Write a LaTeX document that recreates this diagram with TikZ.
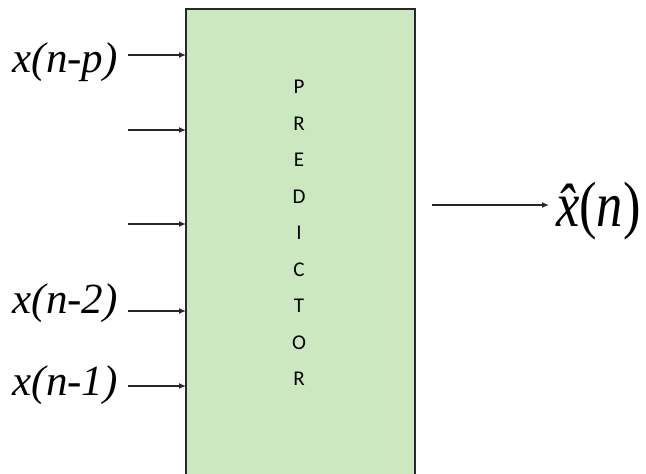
\documentclass[tikz,border=0pt]{standalone}
\usepackage{fontspec}
\usetikzlibrary{arrows.meta}
\setmainfont{Liberation Serif}
\newfontfamily\predfont{Carlito}
\definecolor{boxgreen}{RGB}{204,232,192}
\definecolor{boxedge}{RGB}{40,40,40}
\begin{document}
\begin{tikzpicture}[x=1pt,y=-1pt,
  inlabel/.style={font=\fontsize{43}{45}\selectfont\itshape, anchor=base east, inner sep=0pt},
  inarrow/.style={-{Latex[length=7pt,width=6pt]}, line width=2.2pt, black!85},
  letter/.style={font=\predfont\fontsize{21}{22}\selectfont, inner sep=0pt}]
\useasboundingbox (0,0) rectangle (646,474);
\begin{scope}
\clip (0,0) rectangle (646,474);
\draw[fill=boxgreen, draw=boxedge, line width=2.2pt] (186,9) rectangle (415,480);
\end{scope}
% inputs
\foreach \y/\name in {55/a,130/b,224/c,311/d,386/e}{
  \coordinate (s\name) at (128,\y);
  \coordinate (t\name) at (186,\y);
  \draw[inarrow] (s\name) -- (t\name);
}
\node[inlabel] (la) at (118,72) {x(n-p)};
\node[inlabel] (ld) at (118,313) {x(n-2)};
\node[inlabel] (le) at (118,395) {x(n-1)};
% output
\coordinate (os) at (432,205);
\coordinate (ot) at (549,205);
\draw[inarrow] (os) -- (ot);
\node[font=\fontsize{64}{66}\selectfont, anchor=base west, inner sep=0pt, xscale=0.82] (out) at (556,226) {{\itshape \^{x}}({\itshape n})};
% letters
\foreach \c [count=\i from 0] in {P,R,E,D,I,C,T,O,R}{
  \node[letter] (p\i) at (299,{87+36.5*\i}) {\c};
}
\end{tikzpicture}
\end{document}
